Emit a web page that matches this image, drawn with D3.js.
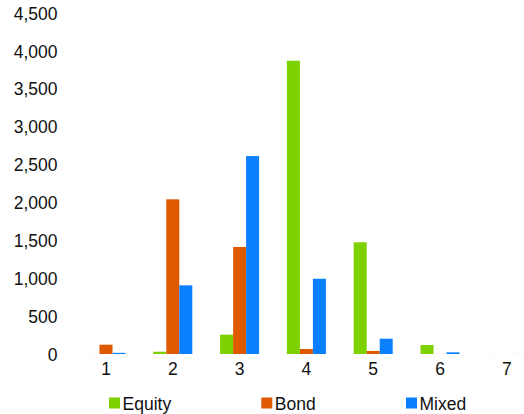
<!DOCTYPE html>
<html><head><meta charset="utf-8">
<script src="https://cdn.jsdelivr.net/npm/d3@7"></script>
<style>body{margin:0;background:#fff;}svg{display:block;font-family:"Liberation Sans",Arial,sans-serif;}</style>
</head><body>
<svg id="c" width="524" height="414"></svg>
<script>
const categories = ["1","2","3","4","5","6","7"];
const seriesNames = ["Equity","Bond","Mixed"];
const equity = [3, 30, 255, 3870, 1474, 119, 3];
const bond = [123, 2041, 1412, 66, 40, 3, 0];
const mixed = [15, 906, 2612, 993, 202, 22, 3];
const yTicks = [0,500,1000,1500,2000,2500,3000,3500,4000,4500];
const colors = ["#7ed100","#de5900","#0a80ff"];
const title = "Funds by SRRI class";

const series = [equity, bond, mixed];
const svg = d3.select("#c");
const x = d3.scaleBand().domain(categories).range([72.6, 540.2]).paddingInner(0).paddingOuter(0);
const y = d3.scaleLinear().domain([0,4500]).range([354, 13]);
const barW = 13;
const fs = 17.5;

svg.append("text").attr("x", 298).attr("y", -4).attr("text-anchor","middle")
  .attr("font-size", 19).attr("fill","#595959").text(title);

// y axis labels
const yAxis = svg.append("g").attr("transform","translate(57.5,0)")
  .call(d3.axisLeft(y).tickValues(yTicks).tickSize(0).tickPadding(0).tickFormat(d3.format(",")));
yAxis.select(".domain").remove();
yAxis.selectAll("text").attr("font-size",fs).attr("fill","#111").attr("font-family","Liberation Sans, Arial, sans-serif").attr("dy","0.35em");

// bars
series.forEach((vals, si) => {
  svg.append("g").selectAll("rect").data(vals).join("rect")
    .attr("x", (d,i) => x(categories[i]) + x.bandwidth()/2 - 1.5*barW + si*barW)
    .attr("y", d => y(d))
    .attr("width", barW)
    .attr("height", d => y(0) - y(d))
    .attr("fill", colors[si])
    .attr("fill-opacity", d => d < 8 ? 0.25 : 1);
});

// x axis labels
const xAxis = svg.append("g").attr("transform","translate(0,363)")
  .call(d3.axisBottom(x).tickSize(0).tickPadding(0));
xAxis.select(".domain").remove();
xAxis.selectAll("text").attr("font-size",fs).attr("fill","#111").attr("font-family","Liberation Sans, Arial, sans-serif").attr("dy","0.71em");

// legend
const legX = [109, 261.3, 406];
const leg = svg.append("g");
seriesNames.forEach((n, i) => {
  leg.append("rect").attr("x", legX[i]).attr("y", 397.5).attr("width", 11).attr("height", 11).attr("fill", colors[i]);
  leg.append("text").attr("x", legX[i] + 13.5).attr("y", 409.5).attr("font-size", fs).attr("fill","#111").text(n);
});
</script>
</body></html>
